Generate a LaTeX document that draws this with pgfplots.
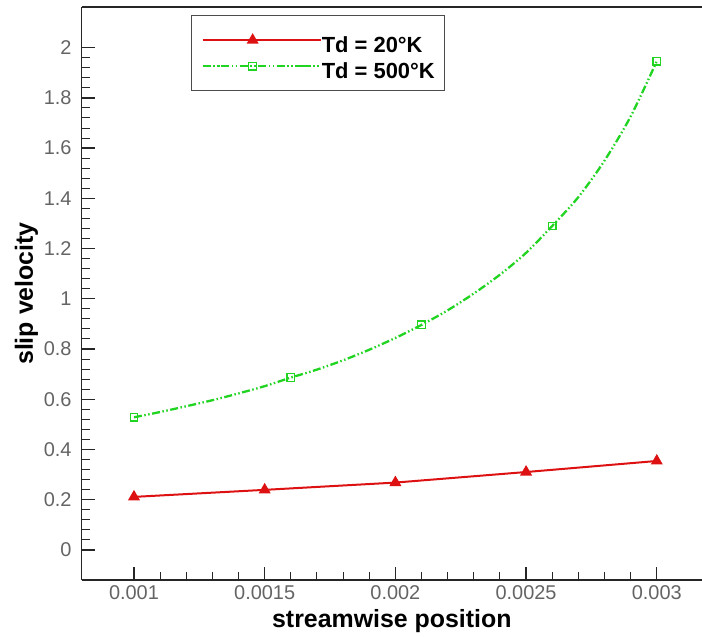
\documentclass[border=0pt]{standalone}
\usepackage{fontspec}
\setmainfont{Liberation Sans}
\usepackage{pgfplots}
\usepackage{pgfplotstable}
\pgfplotsset{compat=1.18}

\definecolor{slipred}{RGB}{221,17,17}
\definecolor{slipgreen}{RGB}{34,212,34}
\definecolor{ticktext}{RGB}{100,100,100}

% slip velocity along the wall, droplet temperature 20 K
\pgfplotstableread{
x       v
0.0010  0.211
0.0015  0.239
0.0020  0.268
0.0025  0.310
0.0030  0.354
}\lowT

% slip velocity along the wall, droplet temperature 500 K
\pgfplotstableread{
x       v
0.0010  0.528
0.0011  0.549
0.0012  0.572
0.0013  0.596
0.0014  0.623
0.0015  0.652
0.0016  0.686
0.0017  0.718
0.0018  0.755
0.0019  0.797
0.0020  0.844
0.0021  0.896
0.0022  0.954
0.0023  1.021
0.0024  1.096
0.0025  1.183
0.0026  1.290
0.0027  1.405
0.0028  1.550
0.0029  1.726
0.0030  1.946
}\highT

\begin{document}
\begin{tikzpicture}
\begin{axis}[
  at={(0,0)}, anchor=south west,
  scale only axis, width=620.3bp, height=573bp,
  xmin=0.0008, xmax=0.003173, ymin=-0.12, ymax=2.162,
  axis y line*=left,
  axis line style={line width=1.6bp, black!85},
  scaled x ticks=false, scaled y ticks=false,
  xtick={0.001,0.0015,0.002,0.0025,0.003},
  xticklabels={0.001,0.0015,0.002,0.0025,0.003},
  ytick={0,0.2,0.4,0.6,0.8,1,1.2,1.4,1.6,1.8,2},
  yticklabels={0,0.2,0.4,0.6,0.8,1,1.2,1.4,1.6,1.8,2},
  minor x tick num=4, minor y tick num=4,
  xtick pos=bottom,
  tick align=inside,
  major tick length=13bp, minor tick length=8bp,
  every tick/.style={black!85, line width=1.3bp},
  every minor tick/.style={line width=1bp},
  /pgf/number format/assume math mode=true,
  tick label style={font=\fontsize{20}{24}\selectfont, text=ticktext, inner sep=1bp},
  xticklabel style={yshift=-4bp},
  yticklabel style={xshift=-9bp},
  xlabel={streamwise position}, ylabel={slip velocity},
  label style={font=\bfseries\fontsize{25}{30}\selectfont},
  xlabel style={at={(axis description cs:0.5,-0.0724)}, anchor=center},
  ylabel style={at={(axis description cs:-0.089,0.5)}, anchor=center},
  legend style={at={(axis description cs:0.176,0.986)}, anchor=north west,
    draw=black!70, line width=1.3bp,
    font=\bfseries\fontsize{22}{26}\selectfont,
    inner xsep=10bp, inner ysep=11.5bp, row sep=0bp,
    nodes={inner sep=0bp, text height=25.5bp, text depth=0.5bp}},
  legend cell align=left,
  legend image code/.code={
    \draw[#1, mark indices={2}] plot coordinates {(0bp,0bp) (50bp,0bp) (100bp,0bp)};
    \path (100bp,0bp) -- (118bp,0bp);},
]
\addplot[slipred, line width=2bp, mark=triangle*,
  mark size=5bp, mark options={solid, fill=slipred}]
  table[x=x, y=v] {\lowT};
\addlegendentry{Td = 20°K}

\addplot[slipgreen, line width=2.3bp, smooth,
  dash pattern=on 8bp off 2.5bp on 1.5bp off 2.5bp on 1.5bp off 2.5bp,
  mark=square, mark size=3.8bp, mark indices={1,7,12,17,21},
  mark options={solid, line width=1.2bp}]
  table[x=x, y=v] {\highT};
\addlegendentry{Td = 500°K}
\end{axis}
\pgfresetboundingbox
\path (-81.7bp,-57bp) rectangle (620.3bp,580bp);
\end{tikzpicture}
\end{document}
